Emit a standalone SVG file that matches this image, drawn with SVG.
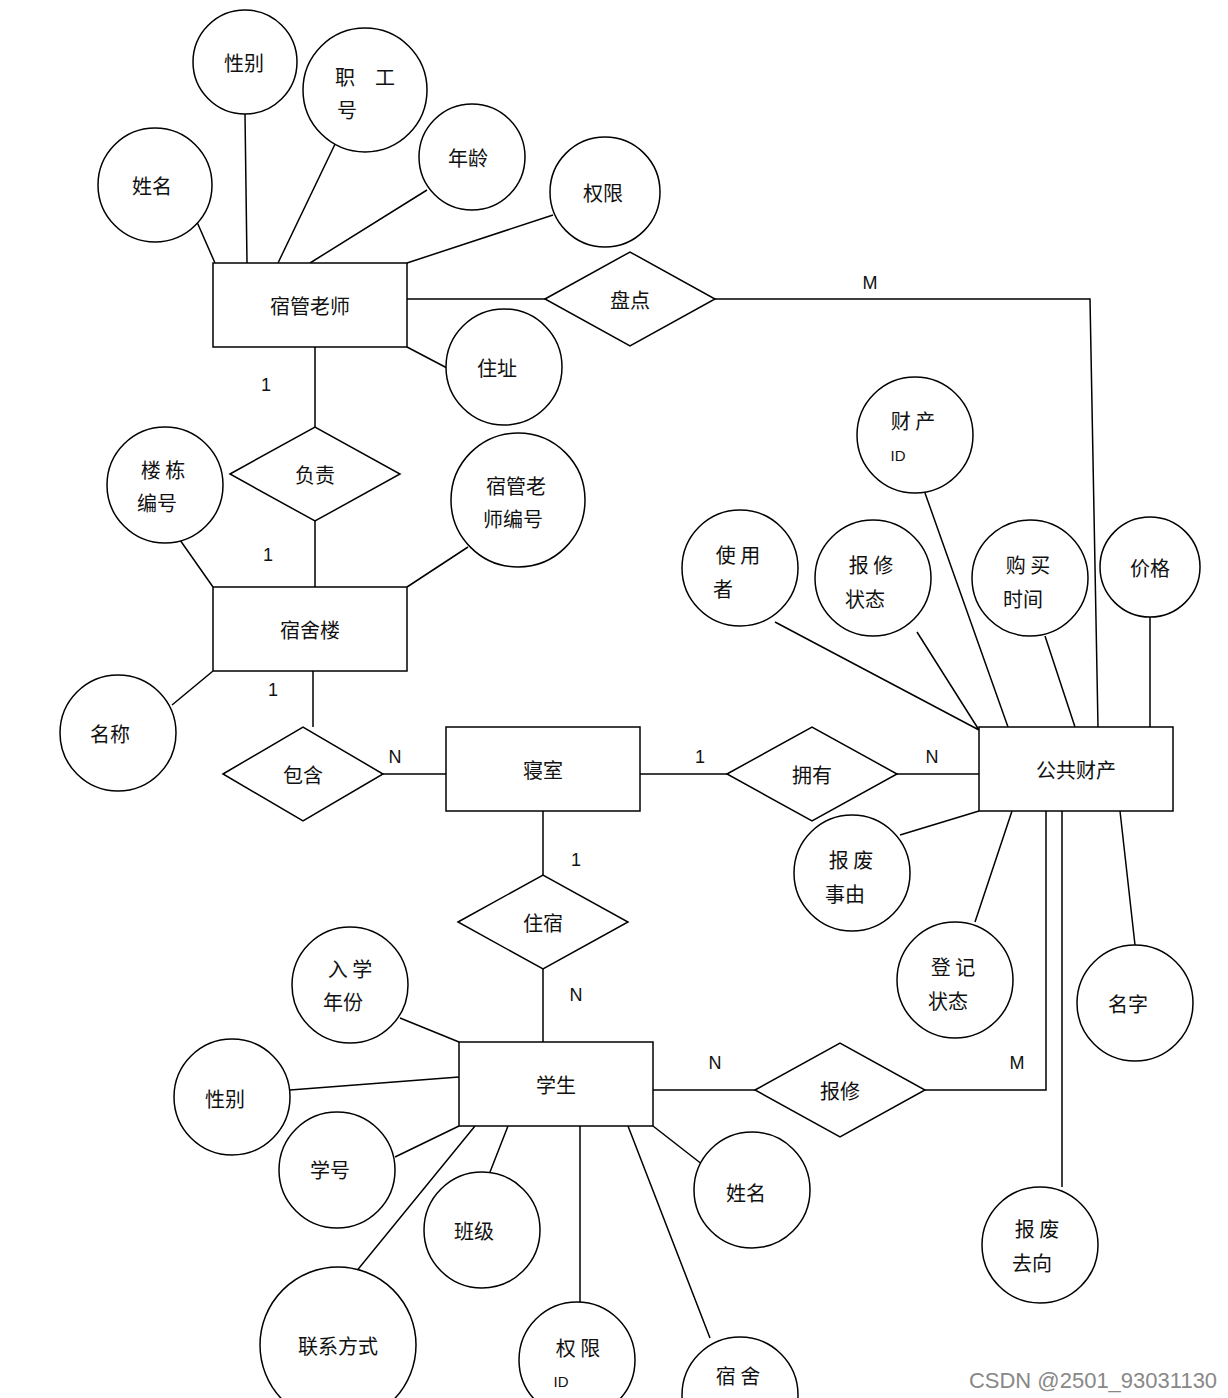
<svg xmlns="http://www.w3.org/2000/svg" width="1228" height="1398" viewBox="0 0 1228 1398">
<style>
.s{fill:#fff;stroke:#000;stroke-width:1.5}
.l{stroke:#000;stroke-width:1.5;fill:none}
text{font-family:"Noto Sans CJK SC","Noto Sans",sans-serif;font-size:20px;text-anchor:middle;dominant-baseline:central;fill:#111}
.c{font-family:"Liberation Sans",sans-serif;font-size:18px}
</style>
<rect width="1228" height="1398" fill="#fff"/>
<g id="connectors">
<path class="l" d="M197,222L215,263M245,114L247,263M337,140L278,263M427,190L310,263M553,215L407,263M407,347L447,368M407,299L545,299M715,299L1090,299L1098,727M315,347L315,427M315,521L315,587M180,540L213,587M468,547L407,587M172,705L213,671M313,671L313,727M383,774L446,774M640,774L727,774M897,774L979,774M543,811L543,875M543,969L543,1042M653,1090L755,1090M925,1090L1046,1090L1046,811M925,493L1008,727M775,622L979,730M917,632L979,730M1045,636L1075,727M1150,617L1150,727M900,835L979,811M975,922L1012,811M1135,945L1120,811M1062,1187L1062,811M400,1018L459,1042M290,1090L459,1077M395,1157L459,1126M490,1172L508,1126M355,1273L475,1126M580,1302L580,1126M710,1338L628,1126M703,1165L653,1126"/>
<g class="c"><text class="c" x="870" y="283">M</text><text class="c" x="266" y="385">1</text><text class="c" x="268" y="555">1</text><text class="c" x="273" y="690">1</text><text class="c" x="395" y="757">N</text><text class="c" x="700" y="757">1</text><text class="c" x="932" y="757">N</text><text class="c" x="576" y="860">1</text><text class="c" x="576" y="995">N</text><text class="c" x="715" y="1063">N</text><text class="c" x="1017" y="1063">M</text></g>
</g>
<g id="entities">
<g id="e1"><rect class="s" x="213" y="263" width="194" height="84"/><text x="310" y="305">宿管老师</text></g>
<g id="e2"><rect class="s" x="213" y="587" width="194" height="84"/><text x="310" y="629">宿舍楼</text></g>
<g id="e3"><rect class="s" x="446" y="727" width="194" height="84"/><text x="543" y="769">寝室</text></g>
<g id="e4"><rect class="s" x="979" y="727" width="194" height="84"/><text x="1076" y="769">公共财产</text></g>
<g id="e5"><rect class="s" x="459" y="1042" width="194" height="84"/><text x="556" y="1084">学生</text></g>
</g>
<g id="relations">
<g id="r1"><polygon class="s" points="545,299 630,252 715,299 630,346"/><text x="630" y="299">盘点</text></g>
<g id="r2"><polygon class="s" points="230,474 315,427 400,474 315,521"/><text x="315" y="474">负责</text></g>
<g id="r3"><polygon class="s" points="223,774 303,727 383,774 303,821"/><text x="303" y="774">包含</text></g>
<g id="r4"><polygon class="s" points="727,774 812,727 897,774 812,821"/><text x="812" y="774">拥有</text></g>
<g id="r5"><polygon class="s" points="458,922 543,875 628,922 543,969"/><text x="543" y="922">住宿</text></g>
<g id="r6"><polygon class="s" points="755,1090 840,1043 925,1090 840,1137"/><text x="840" y="1090">报修</text></g>
</g>
<g id="attributes">
<g><circle class="s" cx="155" cy="185" r="57"/><text x="152" y="185">姓名</text></g>
<g><circle class="s" cx="245" cy="62" r="52"/><text x="244" y="62">性别</text></g>
<g><circle class="s" cx="365" cy="90" r="62"/><text x="365" y="76">职　工</text><text x="347" y="109">号</text></g>
<g><circle class="s" cx="472" cy="157" r="53"/><text x="468" y="157">年龄</text></g>
<g><circle class="s" cx="605" cy="192" r="55"/><text x="603" y="192">权限</text></g>
<g><circle class="s" cx="504" cy="367" r="58"/><text x="497" y="367">住址</text></g>
<g><circle class="s" cx="165" cy="485" r="58"/><text x="163" y="469">楼 栋</text><text x="157" y="502">编号</text></g>
<g><circle class="s" cx="518" cy="500" r="67"/><text x="516" y="485">宿管老</text><text x="513" y="518">师编号</text></g>
<g><circle class="s" cx="118" cy="733" r="58"/><text x="110" y="733">名称</text></g>
<g><circle class="s" cx="915" cy="435" r="58"/><text x="913" y="420">财 产</text><text class="c" x="898" y="455" style="font-size:15px">ID</text></g>
<g><circle class="s" cx="740" cy="568" r="58"/><text x="738" y="554">使 用</text><text x="723" y="588">者</text></g>
<g><circle class="s" cx="873" cy="578" r="58"/><text x="871" y="564">报 修</text><text x="865" y="598">状态</text></g>
<g><circle class="s" cx="1030" cy="578" r="58"/><text x="1028" y="564">购 买</text><text x="1023" y="598">时间</text></g>
<g><circle class="s" cx="1150" cy="567" r="50"/><text x="1150" y="567">价格</text></g>
<g><circle class="s" cx="852" cy="873" r="58"/><text x="851" y="859">报 废</text><text x="845" y="893">事由</text></g>
<g><circle class="s" cx="955" cy="980" r="58"/><text x="953" y="966">登 记</text><text x="948" y="1000">状态</text></g>
<g><circle class="s" cx="1135" cy="1003" r="58"/><text x="1128" y="1003">名字</text></g>
<g><circle class="s" cx="1040" cy="1245" r="58"/><text x="1037" y="1228">报 废</text><text x="1032" y="1262">去向</text></g>
<g><circle class="s" cx="350" cy="985" r="58"/><text x="350" y="968">入 学</text><text x="343" y="1001">年份</text></g>
<g><circle class="s" cx="232" cy="1097" r="58"/><text x="225" y="1098">性别</text></g>
<g><circle class="s" cx="337" cy="1170" r="58"/><text x="330" y="1169">学号</text></g>
<g><circle class="s" cx="482" cy="1230" r="58"/><text x="474" y="1230">班级</text></g>
<g><circle class="s" cx="752" cy="1190" r="58"/><text x="746" y="1192">姓名</text></g>
<g><circle class="s" cx="338" cy="1345" r="78"/><text x="338" y="1345">联系方式</text></g>
<g><circle class="s" cx="577" cy="1360" r="58"/><text x="578" y="1347">权 限</text><text class="c" x="561" y="1381" style="font-size:15px">ID</text></g>
<g><circle class="s" cx="740" cy="1395" r="58"/><text x="738" y="1375">宿 舍</text></g>
</g>
<text class="c" x="1093" y="1380" style="font-size:22px;fill:#888">CSDN @2501_93031130</text>
</svg>
